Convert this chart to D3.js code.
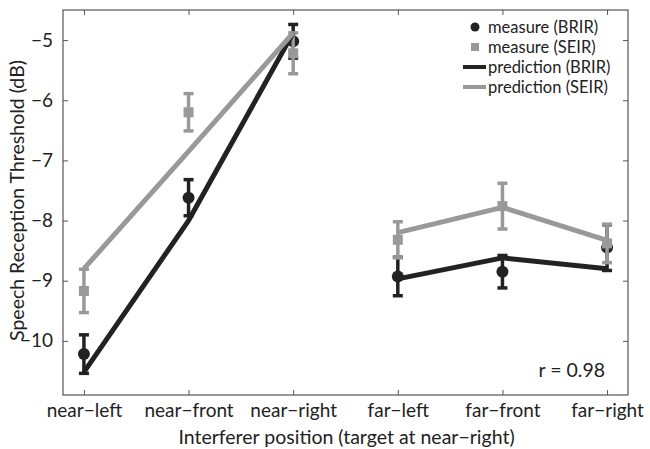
<!DOCTYPE html>
<html>
<head>
<meta charset="utf-8">
<script src="https://cdn.jsdelivr.net/npm/d3@7"></script>
<style>
  body { margin: 0; background: #fff; }
  svg text { font-family: Lato, "Open Sans", sans-serif; fill: #222; }
</style>
</head>
<body>
<svg id="chart" width="650" height="449"></svg>
<script>
// categories along x
const positions = ['near\u2212left', 'near\u2212front', 'near\u2212right', 'far\u2212left', 'far\u2212front', 'far\u2212right'];
// measured thresholds (dB) and error bar half-widths
const measureBRIR = [-10.22, -7.62, -5.02, -8.93, -8.85, -8.45];
const errBRIR = [0.32, 0.30, 0.28, 0.32, 0.27, 0.38];
const measureSEIR = [-9.17, -6.2, -5.22, -8.32, -7.76, -8.38];
const errSEIR = [0.36, 0.31, 0.34, 0.30, 0.38, 0.32];
// model predictions
const predBRIR = [-10.52, -8.0, -4.88, -8.97, -8.62, -8.8];
const predSEIR = [-8.8, -6.85, -4.88, -8.2, -7.78, -8.33];
const yTicks = [-10, -9, -8, -7, -6, -5];

const dark = '#222222';
const grey = '#999999';

const margin = { top: 10, right: 22, bottom: 54, left: 63 };
const width = 650 - margin.left - margin.right;
const height = 449 - margin.top - margin.bottom;

const svg = d3.select('#chart');
const g = svg.append('g').attr('transform', `translate(${margin.left},${margin.top})`);

const x = d3.scaleLinear().domain([0.8, 6.2]).range([0, width]);
const y = d3.scaleLinear().domain([-10.9, -4.5]).range([height, 0]);
const idx = positions.map((p, i) => i + 1);

// box
g.append('rect')
  .attr('width', width).attr('height', height)
  .attr('fill', 'none').attr('stroke', '#555').attr('stroke-width', 1.2);

// axes with inward ticks
const fmt = d => String(d).replace('-', '\u2212');
g.append('g').attr('transform', `translate(0,${height})`)
  .call(d3.axisBottom(x).tickValues(idx).tickSize(-5).tickPadding(9).tickFormat(d => positions[d - 1]));
g.append('g')
  .call(d3.axisLeft(y).tickValues(yTicks).tickSize(-5).tickPadding(10).tickFormat(fmt));
g.append('g').call(d3.axisTop(x).tickValues(idx).tickSize(-5).tickFormat(''));
g.append('g').attr('transform', `translate(${width},0)`)
  .call(d3.axisRight(y).tickValues(yTicks).tickSize(-5).tickFormat(''));
g.selectAll('.domain').remove();
g.selectAll('.tick line').attr('stroke', '#555');
g.selectAll('.tick text').attr('font-size', 19).attr('fill', '#222');

// axis titles
svg.append('text')
  .attr('x', margin.left + width / 2 + 1).attr('y', 444)
  .attr('text-anchor', 'middle').attr('font-size', 19.5)
  .text('Interferer position (target at near\u2212right)');
svg.append('text')
  .attr('transform', `translate(24,${margin.top + height / 2 - 2}) rotate(-90)`)
  .attr('text-anchor', 'middle').attr('font-size', 19.5)
  .text('Speech Reception Threshold (dB)');

// error bars
function errorBars(vals, errs, color) {
  const eg = g.append('g').attr('stroke', color).attr('stroke-width', 3.5);
  vals.forEach((v, i) => {
    const cx = x(i + 1);
    eg.append('line').attr('x1', cx).attr('x2', cx).attr('y1', y(v - errs[i])).attr('y2', y(v + errs[i]));
    eg.append('line').attr('x1', cx - 5).attr('x2', cx + 5).attr('y1', y(v - errs[i])).attr('y2', y(v - errs[i]));
    eg.append('line').attr('x1', cx - 5).attr('x2', cx + 5).attr('y1', y(v + errs[i])).attr('y2', y(v + errs[i]));
  });
}

errorBars(measureBRIR, errBRIR, dark);
g.append('g').selectAll('circle').data(measureBRIR).enter().append('circle')
  .attr('cx', (d, i) => x(i + 1)).attr('cy', d => y(d)).attr('r', 6).attr('fill', dark);

errorBars(measureSEIR, errSEIR, grey);
g.append('g').selectAll('rect').data(measureSEIR).enter().append('rect')
  .attr('x', (d, i) => x(i + 1) - 5).attr('y', d => y(d) - 5)
  .attr('width', 10).attr('height', 10).attr('fill', grey);

// prediction lines (near and far groups drawn separately)
const line = d3.line().x(d => x(d.i + 1)).y(d => y(d.v));
function predLine(vals, color) {
  const pts = vals.map((v, i) => ({ i, v }));
  [pts.slice(0, 3), pts.slice(3)].forEach(seg => {
    g.append('path').datum(seg).attr('d', line)
      .attr('fill', 'none').attr('stroke', color).attr('stroke-width', 5)
      .attr('stroke-linejoin', 'round');
  });
}
predLine(predBRIR, dark);
predLine(predSEIR, grey);

// correlation label
g.append('text').attr('x', x(6) - 2).attr('y', y(-10.6))
  .attr('text-anchor', 'end').attr('font-size', 19.5).text('r = 0.98');

// legend
const legendItems = [
  { label: 'measure (BRIR)', type: 'circle', color: dark },
  { label: 'measure (SEIR)', type: 'square', color: grey },
  { label: 'prediction (BRIR)', type: 'line', color: dark },
  { label: 'prediction (SEIR)', type: 'line', color: grey }
];
const lg = svg.append('g').attr('transform', 'translate(475,27)');
legendItems.forEach((d, i) => {
  const row = lg.append('g').attr('transform', `translate(0,${i * 20})`);
  if (d.type === 'circle') row.append('circle').attr('r', 4.5).attr('fill', d.color);
  if (d.type === 'square') row.append('rect').attr('x', -4).attr('y', -4).attr('width', 8).attr('height', 8).attr('fill', d.color);
  if (d.type === 'line') row.append('line').attr('x1', -12).attr('x2', 11).attr('stroke', d.color).attr('stroke-width', 4);
  row.append('text').attr('x', 13).attr('dy', '0.35em').attr('font-size', 16.5).text(d.label);
});
</script>
</body>
</html>
